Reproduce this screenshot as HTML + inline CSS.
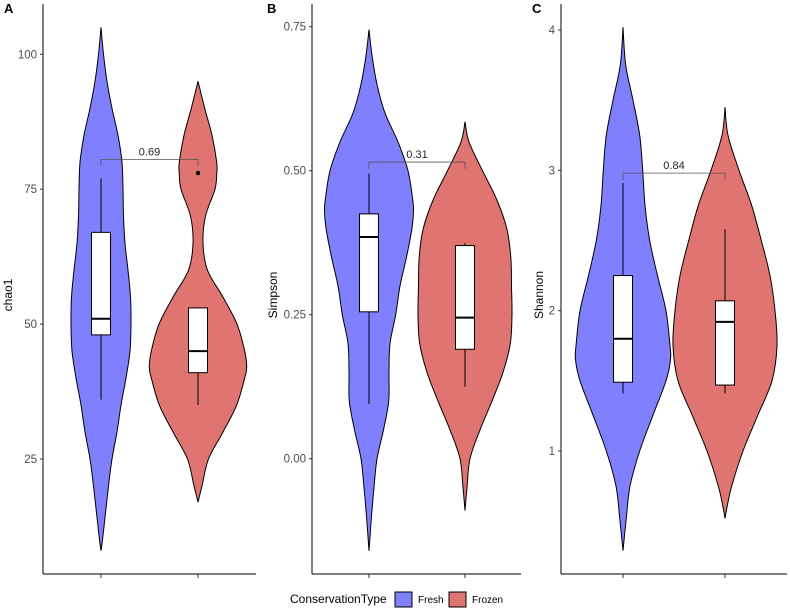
<!DOCTYPE html>
<html><head><meta charset="utf-8">
<style>
html,body{margin:0;padding:0;background:#fff;}
svg{display:block;font-family:"Liberation Sans",Arial,sans-serif;}
</style></head>
<body>
<svg id="chart" width="790" height="609" viewBox="0 0 790 609" xmlns="http://www.w3.org/2000/svg"></svg>
<script>
// ---- data ----
const groups = ["Fresh", "Frozen"];
const groupColors = ["#8080ff", "#e07470"];
const panelLetters = ["A", "B", "C"];
const panelTitles = ["chao1", "Simpson", "Shannon"];
const pValues = ["0.69", "0.31", "0.84"];
const bracketLevels = [80.5, 0.515, 2.98];
const tickLabelsA = ["25", "50", "75", "100"];
const tickValuesA = [25, 50, 75, 100];
const tickLabelsB = ["0.00", "0.25", "0.50", "0.75"];
const tickValuesB = [0, 0.25, 0.5, 0.75];
const tickLabelsC = ["1", "2", "3", "4"];
const tickValuesC = [1, 2, 3, 4];

// violin density profiles: values and half-widths
const violinA_fresh_v = [105,100,95,90,85,80,75,70,65,60,55,50,45,40,35,30,25,20,15,10,8];
const violinA_fresh_w = [0,2.5,6,11,17,21,22,22.5,24,27,29.5,30,29,25,20,16,11,7.5,4.5,1.5,0];
const violinA_frozen_v = [95,90,85,80,78,75,70,65,60,55,50,45,42,40,35,30,25,20,17];
const violinA_frozen_w = [0,6.7,14,18.7,18.8,17,7.5,5,9.5,25,39,46.7,48.7,46.7,38.7,25,10.5,4,0];
const violinB_fresh_v = [0.745,0.70,0.65,0.60,0.55,0.50,0.45,0.43,0.40,0.35,0.30,0.25,0.20,0.15,0.10,0.05,0.00,-0.05,-0.10,-0.16];
const violinB_fresh_w = [0,3,8,16,29,39,43.7,44.5,43,37.5,31,26.7,21,20,19.7,14.5,8,5,2.5,0];
const violinB_frozen_v = [0.585,0.55,0.50,0.45,0.40,0.35,0.30,0.25,0.20,0.15,0.10,0.05,0.00,-0.05,-0.09];
const violinB_frozen_w = [0,4,17.5,31.7,41.7,45.8,46.5,47,45.3,38,27,15,5,2,0];
const violinC_fresh_v = [4.02,3.75,3.5,3.25,3.0,2.75,2.5,2.25,2.0,1.75,1.65,1.5,1.25,1.0,0.75,0.5,0.29];
const violinC_fresh_w = [0,2.7,10,16.7,19.7,22,26.7,34.5,43,47,47.5,43,29.7,16.7,7,3,0];
const violinC_frozen_v = [3.45,3.25,3.0,2.75,2.5,2.25,2.0,1.75,1.5,1.25,1.0,0.75,0.6,0.52];
const violinC_frozen_w = [0,3,14,26.7,36.3,45,50,52,47,32.5,18,6.7,2,0];

// boxplot stats [whiskerLow, q1, median, q3, whiskerHigh]
const boxA_fresh = [36, 48, 51, 67, 77];
const boxA_frozen = [35, 41, 45, 53, 53];
const outliersA_frozen = [78];
const boxB_fresh = [0.095, 0.255, 0.385, 0.425, 0.495];
const boxB_frozen = [0.125, 0.19, 0.245, 0.37, 0.375];
const boxC_fresh = [1.41, 1.49, 1.80, 2.25, 2.91];
const boxC_frozen = [1.41, 1.47, 1.92, 2.07, 2.58];

// ---- layout ----
const NS = "http://www.w3.org/2000/svg";
const svg = document.getElementById("chart");
function mk(tag, attrs, parent){
  const e = document.createElementNS(NS, tag);
  for (const k in attrs) e.setAttribute(k, attrs[k]);
  (parent||svg).appendChild(e); return e;
}
const panels = [
  {axisX:43, right:256, xs:[101,198], y0v:25, y0p:459, y1v:100, y1p:54.3, ticksV:tickValuesA, ticksL:tickLabelsA,
   vio:[[violinA_fresh_v,violinA_fresh_w],[violinA_frozen_v,violinA_frozen_w]], box:[boxA_fresh,boxA_frozen], out:[[],outliersA_frozen], letterX:4, titleX:12},
  {axisX:312, right:521, xs:[369,465], y0v:0, y0p:458.7, y1v:0.75, y1p:26.7, ticksV:tickValuesB, ticksL:tickLabelsB,
   vio:[[violinB_fresh_v,violinB_fresh_w],[violinB_frozen_v,violinB_frozen_w]], box:[boxB_fresh,boxB_frozen], out:[[],[]], letterX:267, titleX:277},
  {axisX:561, right:787, xs:[623,725], y0v:1, y0p:451, y1v:4, y1p:30, ticksV:tickValuesC, ticksL:tickLabelsC,
   vio:[[violinC_fresh_v,violinC_fresh_w],[violinC_frozen_v,violinC_frozen_w]], box:[boxC_fresh,boxC_frozen], out:[[],[]], letterX:532, titleX:543}
];
const bottom = 574;

function smoothPath(pts){
  let d = "M" + pts[0][0].toFixed(2) + "," + pts[0][1].toFixed(2);
  for (let i=0;i<pts.length-1;i++){
    const p0 = pts[Math.max(0,i-1)], p1 = pts[i], p2 = pts[i+1], p3 = pts[Math.min(pts.length-1,i+2)];
    const c1x = p1[0]+(p2[0]-p0[0])/6, c1y = p1[1]+(p2[1]-p0[1])/6;
    const c2x = p2[0]-(p3[0]-p1[0])/6, c2y = p2[1]-(p3[1]-p1[1])/6;
    d += " C"+c1x.toFixed(2)+","+c1y.toFixed(2)+" "+c2x.toFixed(2)+","+c2y.toFixed(2)+" "+p2[0].toFixed(2)+","+p2[1].toFixed(2);
  }
  return d;
}

panels.forEach((P, pi) => {
  const g = mk("g", {});
  
  
  const yS = v => P.y0p + (v - P.y0v) * (P.y1p - P.y0p) / (P.y1v - P.y0v);

  P.vio.forEach((vw, gi) => {
    const vals = vw[0], ws = vw[1], cx = P.xs[gi];
    const right = vals.map((v,i)=>[cx+ws[i], yS(v)]);
    const left = vals.map((v,i)=>[cx-ws[i], yS(v)]).reverse();
    const d = smoothPath(right) + " L" + smoothPath(left).slice(1) + " Z";
    const path = mk("path", {d:d, fill:groupColors[gi], stroke:"#000", "stroke-width":1}, g);
    
    
  });
  P.box.forEach((b, gi) => {
    const cx = P.xs[gi], hw = 9.5;
    const bg = mk("g", {}, g);
    
    
    mk("line", {x1:cx, x2:cx, y1:yS(b[0]), y2:yS(b[1]), stroke:"#000", "stroke-width":1}, bg);
    mk("line", {x1:cx, x2:cx, y1:yS(b[3]), y2:yS(b[4]), stroke:"#000", "stroke-width":1}, bg);
    mk("rect", {x:cx-hw, y:yS(b[3]), width:hw*2, height:yS(b[1])-yS(b[3]), fill:"#fff", stroke:"#000", "stroke-width":1}, bg);
    mk("line", {x1:cx-hw, x2:cx+hw, y1:yS(b[2]), y2:yS(b[2]), stroke:"#000", "stroke-width":2}, bg);
    P.out[gi].forEach(o => {
      const c = mk("circle", {cx:cx, cy:yS(o), r:2.2, fill:"#000"}, bg);
      
      
    });
  });
  const by = yS(bracketLevels[pi]);
  const br = mk("path", {d:"M"+P.xs[0]+","+(by+7)+" V"+by+" H"+P.xs[1]+" V"+(by+7), fill:"none", stroke:"#555", "stroke-width":0.8}, g);
  
  
  const pt = mk("text", {x:(P.xs[0]+P.xs[1])/2, y:by-4, "font-size":11, fill:"#222", "text-anchor":"middle"}, g);
  pt.textContent = pValues[pi];
  
  

  const ya = mk("line", {x1:P.axisX, x2:P.axisX, y1:4, y2:bottom, stroke:"#000", "stroke-width":1}, g);
  
  
  const xa = mk("line", {x1:P.axisX, x2:P.right, y1:bottom, y2:bottom, stroke:"#000", "stroke-width":1}, g);
  
  
  P.ticksV.forEach((v,i) => {
    const y = yS(v);
    mk("line", {x1:P.axisX-3, x2:P.axisX, y1:y, y2:y, stroke:"#333", "stroke-width":1}, g);
    const t = mk("text", {x:P.axisX-6, y:y+4, "font-size":11.5, fill:"#4d4d4d", "text-anchor":"end"}, g);
    t.textContent = P.ticksL[i];
    
    
  });
  P.xs.forEach(x => mk("line", {x1:x, x2:x, y1:bottom, y2:bottom+4, stroke:"#333", "stroke-width":1}, g));
  const yt = mk("text", {x:P.titleX, y:295, "font-size":12, fill:"#000", "text-anchor":"middle", transform:"rotate(-90 "+P.titleX+" 295)"}, g);
  yt.textContent = panelTitles[pi];
  
  
  const pl = mk("text", {x:P.letterX, y:13, "font-size":13, "font-weight":"bold", fill:"#000"}, g);
  pl.textContent = panelLetters[pi];
  
  
});

const lg = mk("g", {});


const lt = mk("text", {x:290, y:603, "font-size":12, fill:"#000"}, lg);
lt.textContent = "ConservationType";


const keyX = [395, 449], labX = [418, 472];
groups.forEach((gname, i) => {
  const e = mk("g", {}, lg);
  
  
  mk("rect", {x:keyX[i], y:592, width:17, height:15, fill:groupColors[i], stroke:"#000", "stroke-width":1}, e);
  const t = mk("text", {x:labX[i], y:603, "font-size":10, fill:"#000"}, e);
  t.textContent = gname;
});
</script>
</body></html>
